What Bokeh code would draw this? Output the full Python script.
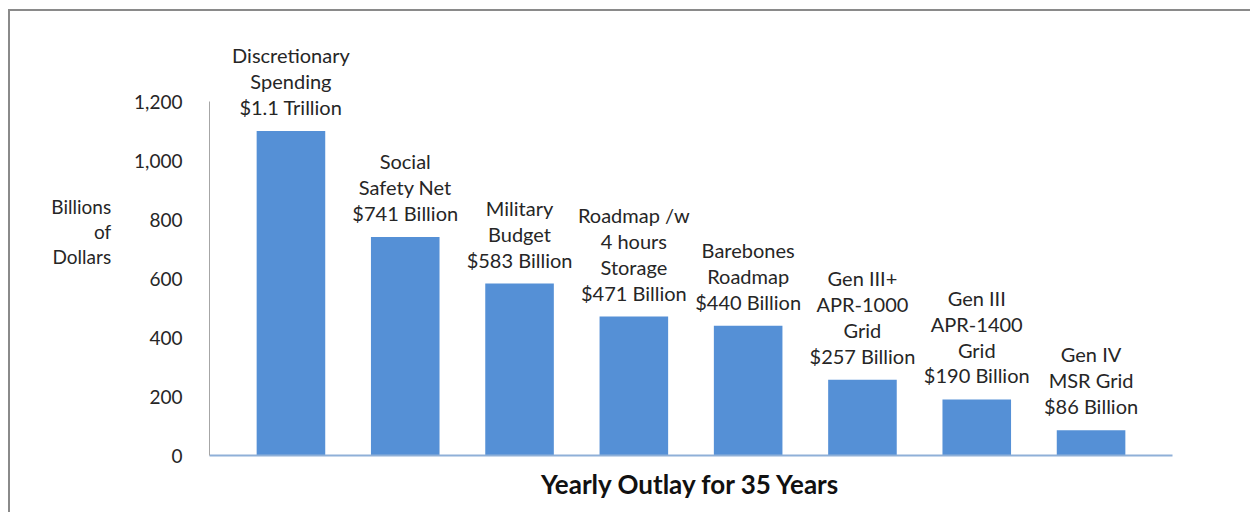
from bokeh.plotting import figure
from bokeh.models import (FixedTicker, ColumnDataSource, NumeralTickFormatter, Range1d)
from bokeh.core.properties import value
from bokeh.embed import file_html
from bokeh.resources import INLINE

categories = ["Discretionary Spending", "Social Safety Net", "Military Budget",
              "Roadmap /w 4 hours Storage", "Barebones Roadmap",
              "Gen III+ APR-1000 Grid", "Gen III APR-1400 Grid", "Gen IV MSR Grid"]
values = [1100, 741, 583, 471, 440, 257, 190, 86]
bar_labels = ["Discretionary\nSpending\n$1.1 Trillion",
              "Social\nSafety Net\n$741 Billion",
              "Military\nBudget\n$583 Billion",
              "Roadmap /w\n4 hours\nStorage\n$471 Billion",
              "Barebones\nRoadmap\n$440 Billion",
              "Gen III+\nAPR-1000\nGrid\n$257 Billion",
              "Gen III\nAPR-1400\nGrid\n$190 Billion",
              "Gen IV\nMSR Grid\n$86 Billion"]
y_ticks = [0, 200, 400, 600, 800, 1000, 1200]
x_title = "Yearly Outlay for 35 Years"
y_title = "Billions\nof\nDollars\n"

FONT = "Lato"

positions = list(range(len(categories)))
src = ColumnDataSource(dict(x=positions, cat=categories, val=values, lab=bar_labels))

pad = 0.7125
p = figure(width=1242, height=503, output_backend="svg", toolbar_location=None,
           x_range=Range1d(-pad, len(categories) - 1 + pad),
           y_range=Range1d(0, 1434),
           min_border_left=199, min_border_right=80, min_border_top=21, min_border_bottom=59)
p.margin = (9, 0, 0, 8)
p.styles = {"border-top": "2px solid #8a8a8a", "border-left": "2px solid #8a8a8a"}

p.vbar(x="x", top="val", width=0.6, source=src, color="#5590d6", line_color=None)
p.text(x="x", y="val", text="lab", source=src, text_align="center", text_baseline="bottom",
       y_offset=-12, text_font=value(FONT), text_font_size="20px", text_color="#262626",
       text_line_height=1.08)

p.outline_line_color = None
p.grid.grid_line_color = None
p.background_fill_color = "white"
p.border_fill_color = "white"

ya = p.yaxis[0]
ya.ticker = FixedTicker(ticks=y_ticks)
ya.bounds = (0, 1200)
ya.formatter = NumeralTickFormatter(format="0,0")
ya.major_tick_line_color = None
ya.minor_tick_line_color = None
ya.axis_line_color = "#a6a6a6"
ya.major_label_standoff = 21
ya.major_label_text_font = FONT
ya.major_label_text_font_size = "19px"
ya.major_label_text_color = "#262626"
ya.axis_label = y_title
ya.axis_label_text_font = FONT
ya.axis_label_text_font_size = "19px"
ya.axis_label_text_font_style = "normal"
ya.axis_label_text_color = "#262626"
ya.axis_label_text_line_height = 1.08
ya.axis_label_text_align = "center"
ya.axis_label_standoff = 20
try:
    ya.axis_label_orientation = "horizontal"
except Exception:
    pass

xa = p.xaxis[0]
xa.ticker = FixedTicker(ticks=[])
xa.major_tick_line_color = None
xa.minor_tick_line_color = None
xa.axis_line_color = "#8fb0d8"
xa.axis_line_width = 2
xa.axis_label = x_title
xa.axis_label_text_font = FONT
xa.axis_label_text_font_style = "bold"
xa.axis_label_text_font_size = "26px"
xa.axis_label_text_color = "#111111"
xa.axis_label_standoff = 12

open("out.html", "w").write(file_html(p, INLINE))
